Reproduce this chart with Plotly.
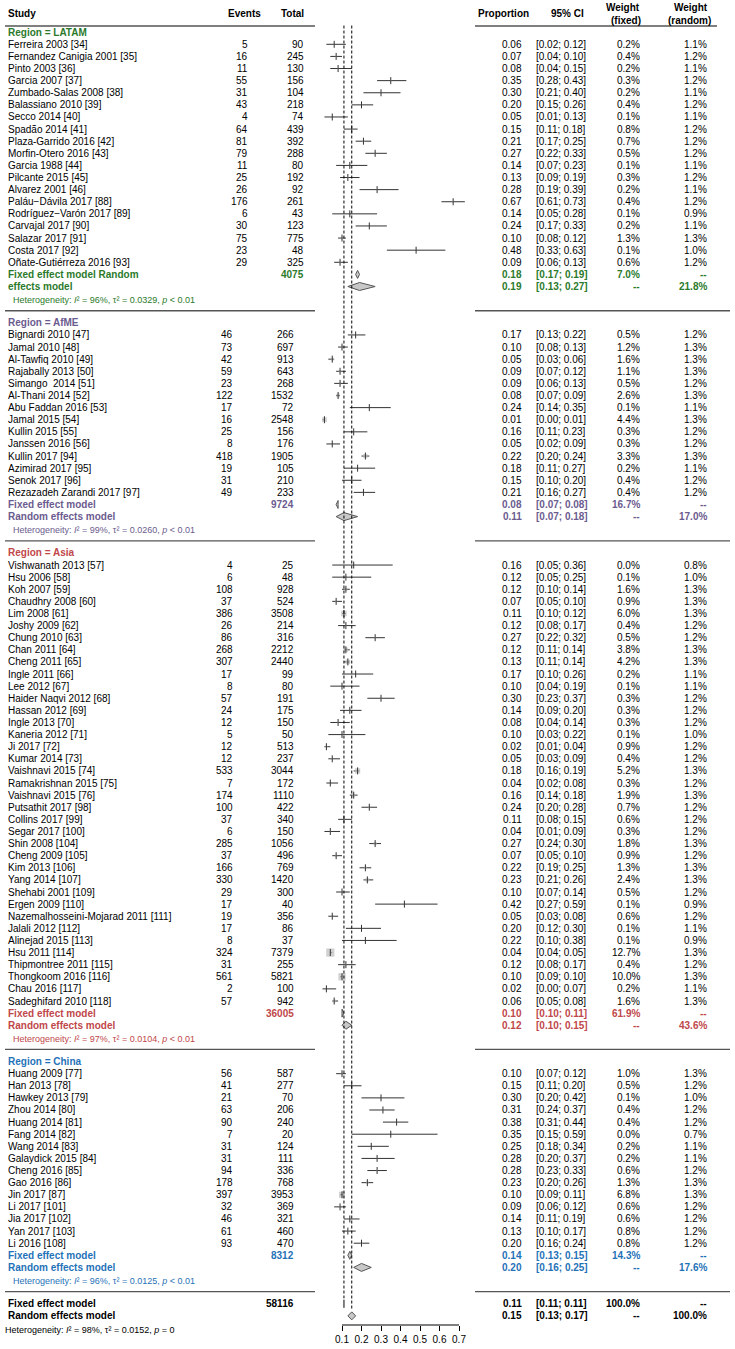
import plotly.graph_objects as go

# ---------------------------------------------------------------- data
latam_names = ["Ferreira 2003 [34]", "Fernandez Canigia 2001 [35]", "Pinto 2003 [36]", "Garcia 2007 [37]",
               "Zumbado-Salas 2008 [38]", "Balassiano 2010 [39]", "Secco 2014 [40]", "Spadão 2014 [41]",
               "Plaza-Garrido 2016 [42]", "Morfin-Otero 2016 [43]", "Garcia 1988 [44]", "Pilcante 2015 [45]",
               "Alvarez 2001 [46]", "Paláu−Dávila 2017 [88]", "Rodríguez−Varón 2017 [89]", "Carvajal 2017 [90]",
               "Salazar 2017 [91]", "Costa 2017 [92]", "Oñate-Gutiérreza 2016 [93]"]
latam_events = [5, 16, 11, 55, 31, 43, 4, 64, 81, 79, 11, 25, 26, 176, 6, 30, 75, 23, 29]
latam_total = [90, 245, 130, 156, 104, 218, 74, 439, 392, 288, 80, 192, 92, 261, 43, 123, 775, 48, 325]
latam_prop = [0.06, 0.07, 0.08, 0.35, 0.30, 0.20, 0.05, 0.15, 0.21, 0.27, 0.14, 0.13, 0.28, 0.67, 0.14, 0.24, 0.10, 0.48, 0.09]
latam_lo = [0.02, 0.04, 0.04, 0.28, 0.21, 0.15, 0.01, 0.11, 0.17, 0.22, 0.07, 0.09, 0.19, 0.61, 0.05, 0.17, 0.08, 0.33, 0.06]
latam_hi = [0.12, 0.10, 0.15, 0.43, 0.40, 0.26, 0.13, 0.18, 0.25, 0.33, 0.23, 0.19, 0.39, 0.73, 0.28, 0.33, 0.12, 0.63, 0.13]
latam_wfix = [0.2, 0.4, 0.2, 0.3, 0.2, 0.4, 0.1, 0.8, 0.7, 0.5, 0.1, 0.3, 0.2, 0.4, 0.1, 0.2, 1.3, 0.1, 0.6]
latam_wran = [1.1, 1.2, 1.1, 1.2, 1.1, 1.2, 1.1, 1.2, 1.2, 1.2, 1.1, 1.2, 1.1, 1.2, 0.9, 1.1, 1.3, 1.0, 1.2]
latam_fixed = [0.18, 0.17, 0.19, 7.0]
latam_random = [0.19, 0.13, 0.27, 21.8]
latam_n = 4075
latam_het = ["96", "0.0329", "&lt; 0.01"]

afme_names = ["Bignardi 2010 [47]", "Jamal 2010 [48]", "Al-Tawfiq 2010 [49]", "Rajabally 2013 [50]",
              "Simango \u00a02014 [51]", "Al-Thani 2014 [52]", "Abu Faddan 2016 [53]", "Jamal 2015 [54]",
              "Kullin 2015 [55]", "Janssen 2016 [56]", "Kullin 2017 [94]", "Azimirad 2017 [95]",
              "Senok 2017 [96]", "Rezazadeh Zarandi 2017 [97]"]
afme_events = [46, 73, 42, 59, 23, 122, 17, 16, 25, 8, 418, 19, 31, 49]
afme_total = [266, 697, 913, 643, 268, 1532, 72, 2548, 156, 176, 1905, 105, 210, 233]
afme_prop = [0.17, 0.10, 0.05, 0.09, 0.09, 0.08, 0.24, 0.01, 0.16, 0.05, 0.22, 0.18, 0.15, 0.21]
afme_lo = [0.13, 0.08, 0.03, 0.07, 0.06, 0.07, 0.14, 0.00, 0.11, 0.02, 0.20, 0.11, 0.10, 0.16]
afme_hi = [0.22, 0.13, 0.06, 0.12, 0.13, 0.09, 0.35, 0.01, 0.23, 0.09, 0.24, 0.27, 0.20, 0.27]
afme_wfix = [0.5, 1.2, 1.6, 1.1, 0.5, 2.6, 0.1, 4.4, 0.3, 0.3, 3.3, 0.2, 0.4, 0.4]
afme_wran = [1.2, 1.3, 1.3, 1.3, 1.2, 1.3, 1.1, 1.3, 1.2, 1.2, 1.3, 1.1, 1.2, 1.2]
afme_fixed = [0.08, 0.07, 0.08, 16.7]
afme_random = [0.11, 0.07, 0.18, 17.0]
afme_n = 9724
afme_het = ["99", "0.0260", "&lt; 0.01"]

asia_names = ["Vishwanath 2013 [57]", "Hsu 2006 [58]", "Koh 2007 [59]", "Chaudhry 2008 [60]", "Lim 2008 [61]",
              "Joshy 2009 [62]", "Chung 2010 [63]", "Chan 2011 [64]", "Cheng 2011 [65]", "Ingle 2011 [66]",
              "Lee 2012 [67]", "Haider Naqvi 2012 [68]", "Hassan 2012 [69]", "Ingle 2013 [70]", "Kaneria 2012 [71]",
              "Ji 2017 [72]", "Kumar 2014 [73]", "Vaishnavi 2015 [74]", "Ramakrishnan 2015 [75]",
              "Vaishnavi 2015 [76]", "Putsathit 2017 [98]", "Collins 2017 [99]", "Segar 2017 [100]",
              "Shin 2008 [104]", "Cheng 2009 [105]", "Kim 2013 [106]", "Yang 2014 [107]", "Shehabi 2001 [109]",
              "Ergen 2009 [110]", "Nazemalhosseini-Mojarad 2011 [111]", "Jalali 2012 [112]", "Alinejad 2015 [113]",
              "Hsu 2011 [114]", "Thipmontree 2011 [115]", "Thongkoom 2016 [116]", "Chau 2016 [117]",
              "Sadeghifard 2010 [118]"]
asia_events = [4, 6, 108, 37, 386, 26, 86, 268, 307, 17, 8, 57, 24, 12, 5, 12, 12, 533, 7, 174,
               100, 37, 6, 285, 37, 166, 330, 29, 17, 19, 17, 8, 324, 31, 561, 2, 57]
asia_total = [25, 48, 928, 524, 3508, 214, 316, 2212, 2440, 99, 80, 191, 175, 150, 50, 513, 237, 3044, 172, 1110,
              422, 340, 150, 1056, 496, 769, 1420, 300, 40, 356, 86, 37, 7379, 255, 5821, 100, 942]
asia_prop = [0.16, 0.12, 0.12, 0.07, 0.11, 0.12, 0.27, 0.12, 0.13, 0.17, 0.10, 0.30, 0.14, 0.08, 0.10, 0.02, 0.05,
             0.18, 0.04, 0.16, 0.24, 0.11, 0.04, 0.27, 0.07, 0.22, 0.23, 0.10, 0.42, 0.05, 0.20, 0.22, 0.04, 0.12,
             0.10, 0.02, 0.06]
asia_lo = [0.05, 0.05, 0.10, 0.05, 0.10, 0.08, 0.22, 0.11, 0.11, 0.10, 0.04, 0.23, 0.09, 0.04, 0.03, 0.01, 0.03,
           0.16, 0.02, 0.14, 0.20, 0.08, 0.01, 0.24, 0.05, 0.19, 0.21, 0.07, 0.27, 0.03, 0.12, 0.10, 0.04, 0.08,
           0.09, 0.00, 0.05]
asia_hi = [0.36, 0.25, 0.14, 0.10, 0.12, 0.17, 0.32, 0.14, 0.14, 0.26, 0.19, 0.37, 0.20, 0.14, 0.22, 0.04, 0.09,
           0.19, 0.08, 0.18, 0.28, 0.15, 0.09, 0.30, 0.10, 0.25, 0.26, 0.14, 0.59, 0.08, 0.30, 0.38, 0.05, 0.17,
           0.10, 0.07, 0.08]
asia_wfix = [0.0, 0.1, 1.6, 0.9, 6.0, 0.4, 0.5, 3.8, 4.2, 0.2, 0.1, 0.3, 0.3, 0.3, 0.1, 0.9, 0.4, 5.2, 0.3, 1.9,
             0.7, 0.6, 0.3, 1.8, 0.9, 1.3, 2.4, 0.5, 0.1, 0.6, 0.1, 0.1, 12.7, 0.4, 10.0, 0.2, 1.6]
asia_wran = [0.8, 1.0, 1.3, 1.3, 1.3, 1.2, 1.2, 1.3, 1.3, 1.1, 1.1, 1.2, 1.2, 1.2, 1.0, 1.2, 1.2, 1.3, 1.2, 1.3,
             1.2, 1.2, 1.2, 1.3, 1.2, 1.3, 1.3, 1.2, 0.9, 1.2, 1.1, 0.9, 1.3, 1.2, 1.3, 1.1, 1.3]
asia_fixed = [0.10, 0.10, 0.11, 61.9]
asia_random = [0.12, 0.10, 0.15, 43.6]
asia_n = 36005
asia_het = ["97", "0.0104", "&lt; 0.01"]

china_names = ["Huang 2009 [77]", "Han 2013 [78]", "Hawkey 2013 [79]", "Zhou 2014 [80]", "Huang 2014 [81]",
               "Fang 2014 [82]", "Wang 2014 [83]", "Galaydick 2015 [84]", "Cheng 2016 [85]", "Gao 2016 [86]",
               "Jin 2017 [87]", "Li 2017 [101]", "Jia 2017 [102]", "Yan 2017 [103]", "Li 2016 [108]"]
china_events = [56, 41, 21, 63, 90, 7, 31, 31, 94, 178, 397, 32, 46, 61, 93]
china_total = [587, 277, 70, 206, 240, 20, 124, 111, 336, 768, 3953, 369, 321, 460, 470]
china_prop = [0.10, 0.15, 0.30, 0.31, 0.38, 0.35, 0.25, 0.28, 0.28, 0.23, 0.10, 0.09, 0.14, 0.13, 0.20]
china_lo = [0.07, 0.11, 0.20, 0.24, 0.31, 0.15, 0.18, 0.20, 0.23, 0.20, 0.09, 0.06, 0.11, 0.10, 0.16]
china_hi = [0.12, 0.20, 0.42, 0.37, 0.44, 0.59, 0.34, 0.37, 0.33, 0.26, 0.11, 0.12, 0.19, 0.17, 0.24]
china_wfix = [1.0, 0.5, 0.1, 0.4, 0.4, 0.0, 0.2, 0.2, 0.6, 1.3, 6.8, 0.6, 0.6, 0.8, 0.8]
china_wran = [1.3, 1.2, 1.0, 1.2, 1.2, 0.7, 1.1, 1.1, 1.2, 1.3, 1.3, 1.2, 1.2, 1.2, 1.2]
china_fixed = [0.14, 0.13, 0.15, 14.3]
china_random = [0.20, 0.16, 0.25, 17.6]
china_n = 8312
china_het = ["96", "0.0125", "&lt; 0.01"]

overall_fixed = [0.11, 0.11, 0.11, 100.0]
overall_random = [0.15, 0.13, 0.17, 100.0]
overall_n = 58116
overall_het = ["98", "0.0152", "= 0"]

tick_vals = [0.1, 0.2, 0.3, 0.4, 0.5, 0.6, 0.7]
tick_text = ["0.1", "0.2", "0.3", "0.4", "0.5", "0.6", "0.7"]

# ---------------------------------------------------------------- layout constants
W, H = 735, 1349
FONT = "Liberation Sans, Arial, Helvetica, sans-serif"
ROW0_PX, ROW_PX = 32.2, 12.11       # pixel centre of row 0, row pitch
AXIS_PX = 1325                      # pixel of the forest x-axis line
X01_PX, PX_PER_UNIT = 342.0, 195.0  # pixel of value 0.1, pixels per unit
DIAM_H = 4.0 / ROW_PX               # half height of diamonds (rows)

C_LATAM, C_AFME, C_ASIA, C_CHINA = "#2b7a2b", "#6b5b8e", "#c0474a", "#1f72b8"
SQ_COL, CI_COL, DIA_FILL, DIA_LINE = "#bdbdbd", "#333333", "#c8c8c8", "#555555"


def row_px(r):
    return ROW0_PX + r * ROW_PX


annotations, shapes, traces = [], [], []


def txt(xpx, r, s, anchor="left", size=10, color="black", bold=False, ypx=None):
    if bold:
        s = "<b>" + s + "</b>"
    yy = row_px(r) if ypx is None else ypx
    annotations.append(dict(x=xpx / W, xref="paper", y=1 - yy / H, yref="paper", text=s, showarrow=False,
                            xanchor=anchor, yanchor="middle", borderpad=0, borderwidth=0,
                            font=dict(family=FONT, size=size, color=color)))


def hline(r, x0px, x1px, color="#555555", width=1.3):
    y = 1 - row_px(r) / H
    shapes.append(dict(type="line", xref="paper", yref="paper", x0=x0px / W, x1=x1px / W, y0=y, y1=y,
                       line=dict(color=color, width=width)))


def diamond(est, lo, hi, r):
    traces.append(go.Scatter(x=[lo, est, hi, est, lo], y=[r, r - DIAM_H, r, r + DIAM_H, r], mode="lines",
                             fill="toself", fillcolor=DIA_FILL, line=dict(color=DIA_LINE, width=1),
                             hoverinfo="skip", showlegend=False))


def het_text(h):
    return "Heterogeneity: <i>I</i>² = %s%%, τ² = %s, <i>p</i> %s" % (h[0], h[1], h[2])


X_PROP, X_CI, X_WF, X_WR = 522, 536, 640, 707
HET_SIZE = 9

regions = [
    ("Region = LATAM", C_LATAM, latam_names, latam_events, latam_total, latam_prop, latam_lo, latam_hi,
     latam_wfix, latam_wran, latam_fixed, latam_random, latam_n, latam_het, 248, 304,
     "Fixed effect model Random", "effects model"),
    ("Region = AfME", C_AFME, afme_names, afme_events, afme_total, afme_prop, afme_lo, afme_hi,
     afme_wfix, afme_wran, afme_fixed, afme_random, afme_n, afme_het, 233, 294,
     "Fixed effect model", "Random effects model"),
    ("Region = Asia", C_ASIA, asia_names, asia_events, asia_total, asia_prop, asia_lo, asia_hi,
     asia_wfix, asia_wran, asia_fixed, asia_random, asia_n, asia_het, 233, 294,
     "Fixed effect model", "Random effects model"),
    ("Region = China", C_CHINA, china_names, china_events, china_total, china_prop, china_lo, china_hi,
     china_wfix, china_wran, china_fixed, china_random, china_n, china_het, 233, 294,
     "Fixed effect model", "Random effects model"),
]

# ---------------------------------------------------------------- header
txt(8, None, "Study", bold=True, ypx=13)
txt(261, None, "Events", anchor="right", bold=True, ypx=13)
txt(304, None, "Total", anchor="right", bold=True, ypx=13)
txt(503.5, None, "Proportion", anchor="center", bold=True, ypx=13)
txt(567.7, None, "95% CI", anchor="center", bold=True, ypx=13)
txt(639.5, None, "Weight", anchor="right", bold=True, ypx=8)
txt(640.5, None, "(fixed)", anchor="right", bold=True, ypx=20)
txt(708, None, "Weight", anchor="right", bold=True, ypx=8)
txt(710.5, None, "(random)", anchor="right", bold=True, ypx=20)
shapes.append(dict(type="line", xref="paper", yref="paper", x0=5 / W, x1=315 / W, y0=1 - 26 / H, y1=1 - 26 / H,
                   line=dict(color="#555555", width=1.3)))
shapes.append(dict(type="line", xref="paper", yref="paper", x0=475 / W, x1=717 / W, y0=1 - 26 / H, y1=1 - 26 / H,
                   line=dict(color="#555555", width=1.3)))

# ---------------------------------------------------------------- regions
r = 0
for (title, col, names, ev, tot, prop, lo, hi, wf, wr, fx, rn, ntot, het, xev, xtot,
     lab_fixed, lab_random) in regions:
    txt(8, r, title, color=col, bold=True)
    ci_x, ci_y = [], []
    rows = []
    for i in range(len(names)):
        rr = r + 1 + i
        rows.append(rr)
        txt(8, rr, names[i])
        txt(xev, rr, str(ev[i]), anchor="right")
        txt(xtot, rr, str(tot[i]), anchor="right")
        txt(X_PROP, rr, "%.2f" % prop[i], anchor="right")
        txt(X_CI, rr, "[%.2f; %.2f]" % (lo[i], hi[i]), anchor="left")
        txt(X_WF, rr, "%.1f%%" % wf[i], anchor="right")
        txt(X_WR, rr, "%.1f%%" % wr[i], anchor="right")
        ci_x += [lo[i], hi[i], None]
        ci_y += [rr, rr, None]
    traces.append(go.Scatter(x=ci_x, y=ci_y, mode="lines", line=dict(color=CI_COL, width=1),
                             hoverinfo="skip", showlegend=False))
    traces.append(go.Scatter(x=prop, y=rows, mode="markers",
                             marker=dict(symbol="square", size=[2.3 * (w ** 0.5) for w in wf], color=SQ_COL,
                                         line=dict(width=0)), hoverinfo="skip", showlegend=False))
    traces.append(go.Scatter(x=prop, y=rows, mode="markers",
                             marker=dict(symbol="line-ns", size=5, line=dict(color=CI_COL, width=1)),
                             hoverinfo="skip", showlegend=False))
    rf, rr_ = r + len(names) + 1, r + len(names) + 2
    # fixed
    txt(8, rf, lab_fixed, color=col, bold=True)
    txt(xtot, rf, str(ntot), anchor="right", color=col, bold=True)
    txt(X_PROP, rf, "%.2f" % fx[0], anchor="right", color=col, bold=True)
    txt(X_CI, rf, "[%.2f; %.2f]" % (fx[1], fx[2]), color=col, bold=True)
    txt(X_WF, rf, "%.1f%%" % fx[3], anchor="right", color=col, bold=True)
    txt(X_WR, rf, "--", anchor="right", color=col, bold=True)
    diamond(fx[0], fx[1], fx[2], rf)
    # random
    txt(8, rr_, lab_random, color=col, bold=True)
    txt(X_PROP, rr_, "%.2f" % rn[0], anchor="right", color=col, bold=True)
    txt(X_CI, rr_, "[%.2f; %.2f]" % (rn[1], rn[2]), color=col, bold=True)
    txt(X_WF, rr_, "--", anchor="right", color=col, bold=True)
    txt(X_WR, rr_, "%.1f%%" % rn[3], anchor="right", color=col, bold=True)
    diamond(rn[0], rn[1], rn[2], rr_)
    # heterogeneity
    txt(13, r + len(names) + 3.1, het_text(het), size=HET_SIZE, color=col)
    # separator
    hline(r + len(names) + 4, 5, 315)
    hline(r + len(names) + 4, 475, 730)
    r = r + len(names) + 5

# ---------------------------------------------------------------- overall
rf, rr_ = r, r + 1
txt(8, rf, "Fixed effect model", bold=True)
txt(294, rf, str(overall_n), anchor="right", bold=True)
txt(X_PROP, rf, "%.2f" % overall_fixed[0], anchor="right", bold=True)
txt(X_CI, rf, "[%.2f; %.2f]" % (overall_fixed[1], overall_fixed[2]), bold=True)
txt(X_WF, rf, "%.1f%%" % overall_fixed[3], anchor="right", bold=True)
txt(X_WR, rf, "--", anchor="right", bold=True)
diamond(overall_fixed[0], overall_fixed[1], overall_fixed[2], rf)
txt(8, rr_, "Random effects model", bold=True)
txt(X_PROP, rr_, "%.2f" % overall_random[0], anchor="right", bold=True)
txt(X_CI, rr_, "[%.2f; %.2f]" % (overall_random[1], overall_random[2]), bold=True)
txt(X_WF, rr_, "--", anchor="right", bold=True)
txt(X_WR, rr_, "%.1f%%" % overall_random[3], anchor="right", bold=True)
diamond(overall_random[0], overall_random[1], overall_random[2], rr_)
txt(5, r + 2.15, het_text(overall_het), size=HET_SIZE)

# reference dashed lines at the overall estimates
for val, end in ((overall_fixed[0], rf - 0.45), (overall_random[0], rr_ - 0.45)):
    shapes.append(dict(type="line", xref="x", yref="y", x0=val, x1=val, y0=-0.55, y1=end,
                       line=dict(color="black", width=1, dash="3px,2px")))

# axis line limited to tick range
axis_y = 1 - AXIS_PX / H
shapes.append(dict(type="line", xref="x", yref="paper", x0=tick_vals[0], x1=tick_vals[-1], y0=axis_y, y1=axis_y,
                   line=dict(color="black", width=1)))

fig = go.Figure(traces)
fig.update_layout(
    width=W, height=H, autosize=False, margin=dict(l=0, r=0, t=0, b=0),
    paper_bgcolor="white", plot_bgcolor="rgba(0,0,0,0)", showlegend=False,
    annotations=annotations, shapes=shapes,
    xaxis=dict(range=[0.1 - X01_PX / PX_PER_UNIT, 0.1 + (W - X01_PX) / PX_PER_UNIT], domain=[0, 1],
               showgrid=False, zeroline=False, showline=False, tickvals=tick_vals, ticktext=tick_text,
               ticks="outside", ticklen=5, tickwidth=1, tickcolor="black",
               tickfont=dict(family=FONT, size=10, color="black"), fixedrange=True),
    yaxis=dict(range=[(AXIS_PX - ROW0_PX) / ROW_PX, -ROW0_PX / ROW_PX], domain=[1 - AXIS_PX / H, 1],
               showgrid=False, zeroline=False, showline=False, showticklabels=False, ticks="",
               fixedrange=True),
)
fig.write_html("out.html", config={"displayModeBar": False, "staticPlot": True},
               post_script="document.body.style.margin='0';document.body.style.overflow='hidden';")
